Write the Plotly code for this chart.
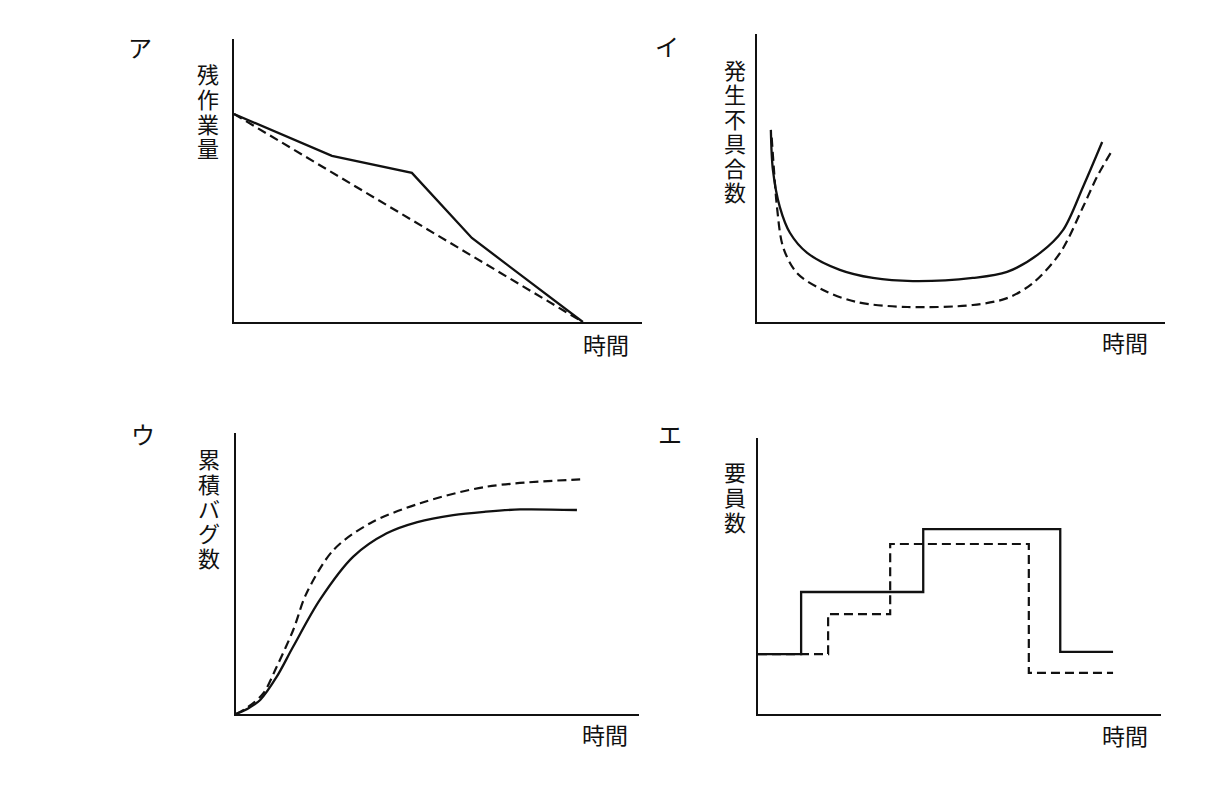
import plotly.graph_objects as go

W, H = 1217, 810

# ---------------- data ----------------
# Panel ア : 残作業量 vs 時間
a_solid_x = [0, 24.0, 43.6, 58.3, 85.5]
a_solid_y = [73.5, 58.7, 52.7, 29.7, 0]
a_dash_x = [0, 85.5]
a_dash_y = [73.5, 0]

# Panel イ : 発生不具合数 vs 時間
i_solid_x = [3.4, 3.9, 5.6, 8.1, 12.3, 20.3, 28.4, 38.2, 52.9, 61.3, 69.4, 75.0, 79.9, 84.6]
i_solid_y = [66.7, 52.8, 39.9, 30.9, 24.0, 18.1, 15.3, 14.2, 15.3, 17.4, 24.0, 31.9, 46.9, 62.5]
i_dash_x = [3.6, 4.2, 4.9, 6.4, 9.8, 16.2, 24.5, 36.8, 52.9, 61.3, 67.6, 74.3, 79.9, 83.3, 86.8]
i_dash_y = [64.0, 52.0, 39.9, 26.0, 17.0, 11.1, 6.9, 5.2, 5.9, 8.3, 13.5, 24.0, 39.9, 50.3, 59.0]

# Panel ウ : 累積バグ数 vs 時間
u_solid_x = [0, 3.0, 6.0, 10.0, 14.2, 20.8, 29.1, 37.4, 45.0, 53.9, 62.0, 70.5, 84.6]
u_solid_y = [0, 2.0, 5.0, 13.0, 24.0, 40.6, 56.0, 64.3, 68.3, 70.8, 72.0, 72.8, 72.6]
u_dash_x = [0, 3.0, 6.8, 10.1, 14.2, 17.5, 24.2, 33.3, 45.7, 62.2, 85.4]
u_dash_y = [0, 2.5, 7.4, 16.8, 29.9, 43.0, 58.4, 67.9, 75.0, 80.9, 83.5]

# Panel エ : 要員数 vs 時間 (step)
e_solid_x = [0, 10.7, 41.0, 75.0, 88.1]
e_solid_y = [21.7, 44.2, 67.0, 22.5, 22.5]
e_dash_x = [0, 17.4, 32.8, 67.2, 88.1]
e_dash_y = [21.7, 36.2, 61.6, 14.9, 14.9]

panel_labels = ["ア", "イ", "ウ", "エ"]
y_titles = ["残作業量", "発生不具合数", "累積バグ数", "要員数"]
x_title = "時間"

# ---------------- layout helpers ----------------
FONT = "Noto Sans CJK JP"
INK = "#111111"

# pixel boxes of each plot area: (left, right, top, bottom)
boxes = [
    (234, 642, 39, 322),
    (757, 1165, 34, 322),
    (236, 639, 433, 714),
    (758, 1161, 438, 714),
]

fig = go.Figure()

def px2x(px):
    return px / W

def px2y(py):
    return 1 - py / H

series = [
    (a_solid_x, a_solid_y, a_dash_x, a_dash_y, "linear"),
    (i_solid_x, i_solid_y, i_dash_x, i_dash_y, "spline"),
    (u_solid_x, u_solid_y, u_dash_x, u_dash_y, "spline"),
    (e_solid_x, e_solid_y, e_dash_x, e_dash_y, "hv"),
]

for k, (box, s) in enumerate(zip(boxes, series)):
    l, r, t, b = box
    n = "" if k == 0 else str(k + 1)
    xa = "x" + n
    ya = "y" + n
    sx, sy, dx, dy, shape = s
    line_kw = dict(shape=shape)
    if shape == "spline":
        line_kw["smoothing"] = 0.9
    fig.add_trace(go.Scatter(x=dx, y=dy, mode="lines", xaxis=xa, yaxis=ya,
                             line=dict(color=INK, width=2.2, dash="9px,5px", **line_kw),
                             showlegend=False, hoverinfo="skip"))
    fig.add_trace(go.Scatter(x=sx, y=sy, mode="lines", xaxis=xa, yaxis=ya,
                             line=dict(color=INK, width=2.3, **line_kw),
                             showlegend=False, hoverinfo="skip"))
    axis_common = dict(range=[0, 100], showgrid=False, zeroline=False,
                       showticklabels=False, ticks="", showline=True,
                       linecolor=INK, linewidth=2, fixedrange=True)
    fig.update_layout(**{
        "xaxis" + n: dict(domain=[px2x(l), px2x(r)], anchor=ya, **axis_common),
        "yaxis" + n: dict(domain=[px2y(b), px2y(t)], anchor=xa, **axis_common),
    })

annotations = []
# panel letters
letter_pos = [(140, 46), (667, 45), (143, 433), (670, 433)]
for lab, (x, y) in zip(panel_labels, letter_pos):
    annotations.append(dict(text=lab, x=px2x(x), y=px2y(y), xref="paper", yref="paper",
                            showarrow=False, xanchor="center", yanchor="middle",
                            font=dict(family=FONT, size=24, color=INK)))

# vertical y titles: glyphs stacked tightly, as in the reference
title_pos = [(208, 62, 24.8), (734.5, 58, 24.4), (208.5, 447, 24.75), (734.5, 460, 25.0)]
for title, (x, top, pitch) in zip(y_titles, title_pos):
    for j, ch in enumerate(title):
        annotations.append(dict(text=ch, x=px2x(x), y=px2y(top + 11 + j * pitch),
                                xref="paper", yref="paper", showarrow=False,
                                xanchor="center", yanchor="middle",
                                font=dict(family=FONT, size=22, color=INK)))

# x titles
xt_pos = [(606, 344), (1125, 342), (605, 734), (1125, 735)]
for (x, y) in xt_pos:
    annotations.append(dict(text=x_title, x=px2x(x), y=px2y(y), xref="paper", yref="paper",
                            showarrow=False, xanchor="center", yanchor="middle",
                            font=dict(family=FONT, size=23, color=INK)))

fig.update_layout(width=W, height=H, margin=dict(l=0, r=0, t=0, b=0),
                  paper_bgcolor="white", plot_bgcolor="white",
                  annotations=annotations, showlegend=False)

fig.write_html("out.html", config={"displayModeBar": False})
